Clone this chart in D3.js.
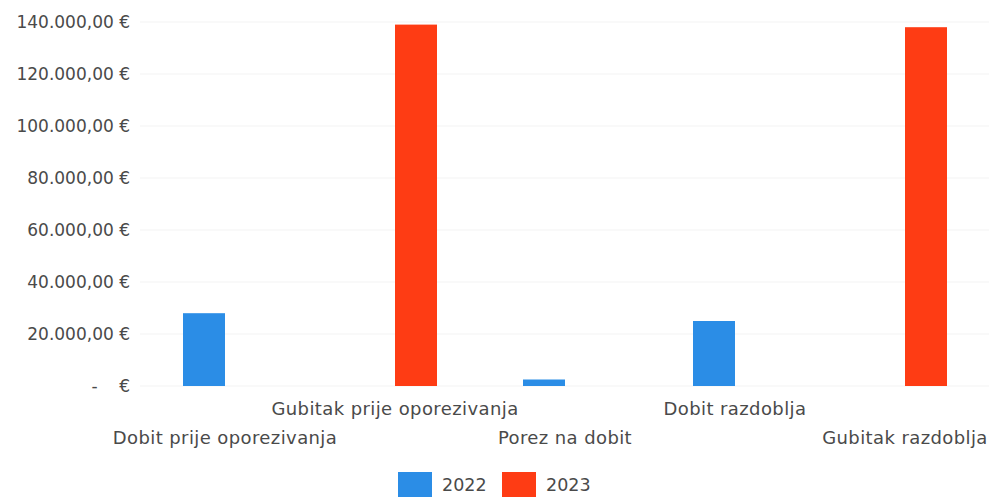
<!DOCTYPE html>
<html>
<head>
<meta charset="utf-8">
<script src="https://cdn.jsdelivr.net/npm/d3@7"></script>
<style>
  body { margin: 0; background: #fff; }
  svg text { font-family: "DejaVu Sans", Verdana, sans-serif; }
</style>
</head>
<body>
<div id="chart"></div>
<script>
var categories = ["Dobit prije oporezivanja", "Gubitak prije oporezivanja", "Porez na dobit", "Dobit razdoblja", "Gubitak razdoblja"];
var seriesNames = ["2022", "2023"];
var values2022 = [28000, 0, 2500, 25000, 0];
var values2023 = [0, 139000, 0, 0, 138000];
var yTicks = [0, 20000, 40000, 60000, 80000, 100000, 120000, 140000];
var colors = ["#2b8de6", "#fe3c14"];

var width = 989, height = 497;

var svg = d3.select("#chart").append("svg")
	.attr("width", width)
	.attr("height", height);

var x = d3.scaleBand()
	.domain(categories)
	.range([140, 990])
	.padding(0);

var xSub = d3.scaleBand()
	.domain(seriesNames)
	.range([x.bandwidth() / 2 - 42, x.bandwidth() / 2 + 42]);

var y = d3.scaleLinear()
	.domain([0, 140000])
	.range([386, 22]);

var locale = d3.formatLocale({ decimal: ",", thousands: ".", grouping: [3], currency: ["", " €"] });
var fmt = locale.format(",.2f");

// faint gridlines
svg.append("g")
	.selectAll("line")
	.data(yTicks)
	.enter()
	.append("line")
	.attr("x1", 140)
	.attr("x2", width)
	.attr("y1", function (d) { return y(d); })
	.attr("y2", function (d) { return y(d); })
	.attr("stroke", "#f3f3f3")
	.attr("stroke-width", 1);

// y axis labels
var yAxis = d3.axisLeft(y)
	.tickValues(yTicks)
	.tickSize(0)
	.tickPadding(0)
	.tickFormat(function (d) {
		return d === 0 ? "-    €" : fmt(d) + " €";
	});

var ya = svg.append("g")
	.attr("transform", "translate(130,0)")
	.call(yAxis);
ya.select(".domain").remove();
ya.selectAll("text")
	.attr("font-size", "17px")
	.attr("fill", "#4a4a4a")
	.style("white-space", "pre");

// bars
var rows = categories.map(function (c, i) {
	return { cat: c, vals: [values2022[i], values2023[i]] };
});

var groups = svg.append("g")
	.selectAll("g")
	.data(rows)
	.enter()
	.append("g")
	.attr("transform", function (d) { return "translate(" + x(d.cat) + ",0)"; });

groups.selectAll("rect")
	.data(function (d) {
		return d.vals.map(function (v, j) { return { s: seriesNames[j], v: v, j: j }; })
			.filter(function (e) { return e.v > 0; });
	})
	.enter()
	.append("rect")
	.attr("x", function (d) { return xSub(d.s); })
	.attr("width", xSub.bandwidth())
	.attr("y", function (d) { return y(d.v); })
	.attr("height", function (d) { return y(0) - y(d.v); })
	.attr("fill", function (d) { return colors[d.j]; });

// staggered category labels
svg.append("g")
	.selectAll("text")
	.data(categories)
	.enter()
	.append("text")
	.attr("x", function (d) { return x(d) + x.bandwidth() / 2; })
	.attr("y", function (d, i) { return i % 2 === 0 ? 438 : 409; })
	.attr("dy", "0.35em")
	.attr("text-anchor", "middle")
	.attr("font-size", "18px")
	.attr("letter-spacing", "0.4px")
	.attr("fill", "#4a4a4a")
	.text(function (d) { return d; });

// legend
var legend = svg.append("g")
	.selectAll("g")
	.data(seriesNames)
	.enter()
	.append("g")
	.attr("transform", function (d, i) { return "translate(" + (398 + i * 104) + ",472)"; });

legend.append("rect")
	.attr("width", 34)
	.attr("height", 34)
	.attr("fill", function (d, i) { return colors[i]; });

legend.append("text")
	.attr("x", 44)
	.attr("y", 13)
	.attr("dy", "0.35em")
	.attr("font-size", "17.5px")
	.attr("fill", "#4a4a4a")
	.text(function (d) { return d; });
</script>
</body>
</html>
